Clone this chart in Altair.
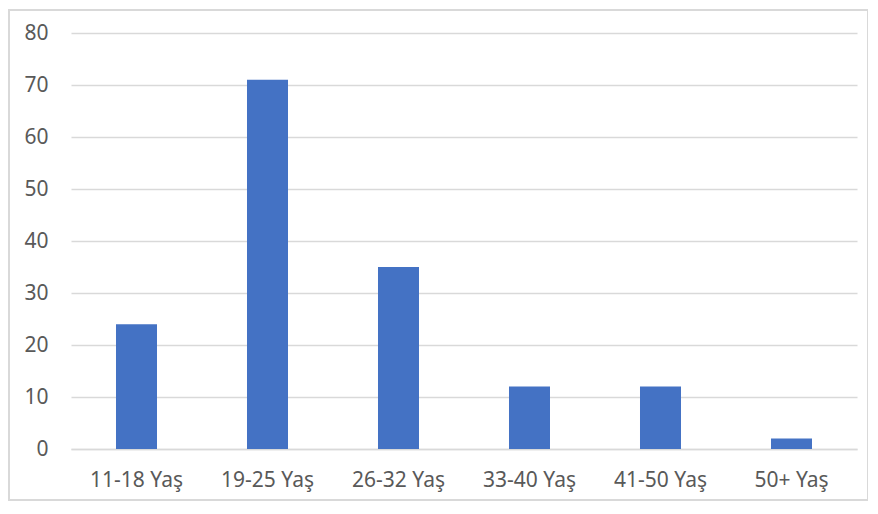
import altair as alt
import pandas as pd

categories = ["11-18 Yaş", "19-25 Yaş", "26-32 Yaş", "33-40 Yaş", "41-50 Yaş", "50+ Yaş"]
values = [24, 71, 35, 12, 12, 2]
y_ticks = [0, 10, 20, 30, 40, 50, 60, 70, 80]

df = pd.DataFrame({"cat": categories, "val": values})

FONT = "Noto Sans"
GRAY = "#595959"
GRID = "#D9D9D9"

bars = alt.Chart(df).mark_bar(color="#4472C4").encode(
    x=alt.X("cat:N", sort=categories, title=None,
            scale=alt.Scale(paddingInner=0.687, paddingOuter=0.3435),
            axis=alt.Axis(labelAngle=0, domain=True, domainColor=GRID, domainWidth=1.5,
                          ticks=False, labelPadding=20, labelFontSize=21,
                          labelColor=GRAY, labelFont=FONT)),
    y=alt.Y("val:Q", title=None,
            scale=alt.Scale(domain=[0, 80], nice=False),
            axis=alt.Axis(values=y_ticks, domain=False, ticks=False, gridColor=GRID,
                          gridWidth=1.5, labelPadding=23, labelFontSize=21,
                          labelColor=GRAY, labelFont=FONT)),
)

frame = alt.Chart(pd.DataFrame({"a": [0]})).mark_rect(
    fill=None, stroke=GRID, strokeWidth=2, clip=False
).encode(
    x=alt.value(-62), x2=alt.value(797), y=alt.value(-23), y2=alt.value(467)
)

chart = alt.layer(bars, frame).properties(
    width=786, height=416,
    autosize=alt.AutoSizeParams(type="none"),
    padding={"left": 63, "top": 25, "right": 11, "bottom": 52},
).configure_view(stroke=None)

chart.save("out.html", embed_options={"renderer": "svg", "actions": False})
